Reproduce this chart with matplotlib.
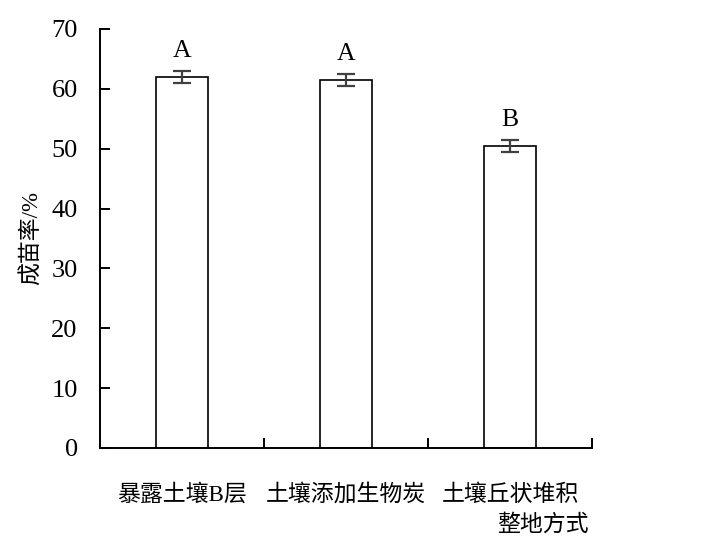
import matplotlib
matplotlib.use("Agg")
import matplotlib.pyplot as plt
from matplotlib.ticker import FixedLocator

plt.rcParams['font.family'] = ['Liberation Serif', 'Noto Sans CJK SC']

# 데이터
categories = ['暴露土壤B层', '土壤添加生物炭', '土壤丘状堆积']
extra_line = '整地方式'
values = [61.9, 61.4, 50.4]
errors = [1.0, 1.0, 1.0]
letters = ['A', 'A', 'B']
yticks = [0, 10, 20, 30, 40, 50, 60, 70]

fig = plt.figure(figsize=(7.11, 5.46), dpi=100)
ax = fig.add_axes([0.1406, 0.1795, 0.692, 0.7674])

x = list(range(len(categories)))
ax.bar(x, values, width=0.32, color='white', edgecolor='black', linewidth=1.2,
       yerr=errors, error_kw=dict(ecolor='#404040', elinewidth=1.6, capsize=6.5, capthick=1.6))

for i in x:
    ax.text(i, values[i] + errors[i] + 1.6, letters[i], ha='center', va='bottom', fontsize=18.5)

ax.set_xlim(-0.5, 2.5)
ax.set_ylim(0, 70)
ax.set_yticks(yticks)
ax.set_yticklabels([str(t) for t in yticks], fontsize=19)
ax.set_xticks(x)
ax.set_xticklabels(categories, fontsize=16.5)
ax.tick_params(axis='x', which='major', length=0, pad=26)
ax.xaxis.set_minor_locator(FixedLocator([0.5, 1.5, 2.5]))
ax.tick_params(axis='x', which='minor', direction='in', length=7, width=1.4)
ax.tick_params(axis='y', direction='in', length=7, width=1.4, pad=16)

# 두번째 줄 라벨
ax.text(2.2, -0.158, extra_line, transform=ax.get_xaxis_transform(),
        ha='center', va='top', fontsize=16.5)

ax.set_ylabel('成苗率/%', fontsize=16.5, labelpad=6)

for s in ['top', 'right']:
    ax.spines[s].set_visible(False)
for s in ['left', 'bottom']:
    ax.spines[s].set_linewidth(1.4)

fig.savefig('out.png', dpi=100)
